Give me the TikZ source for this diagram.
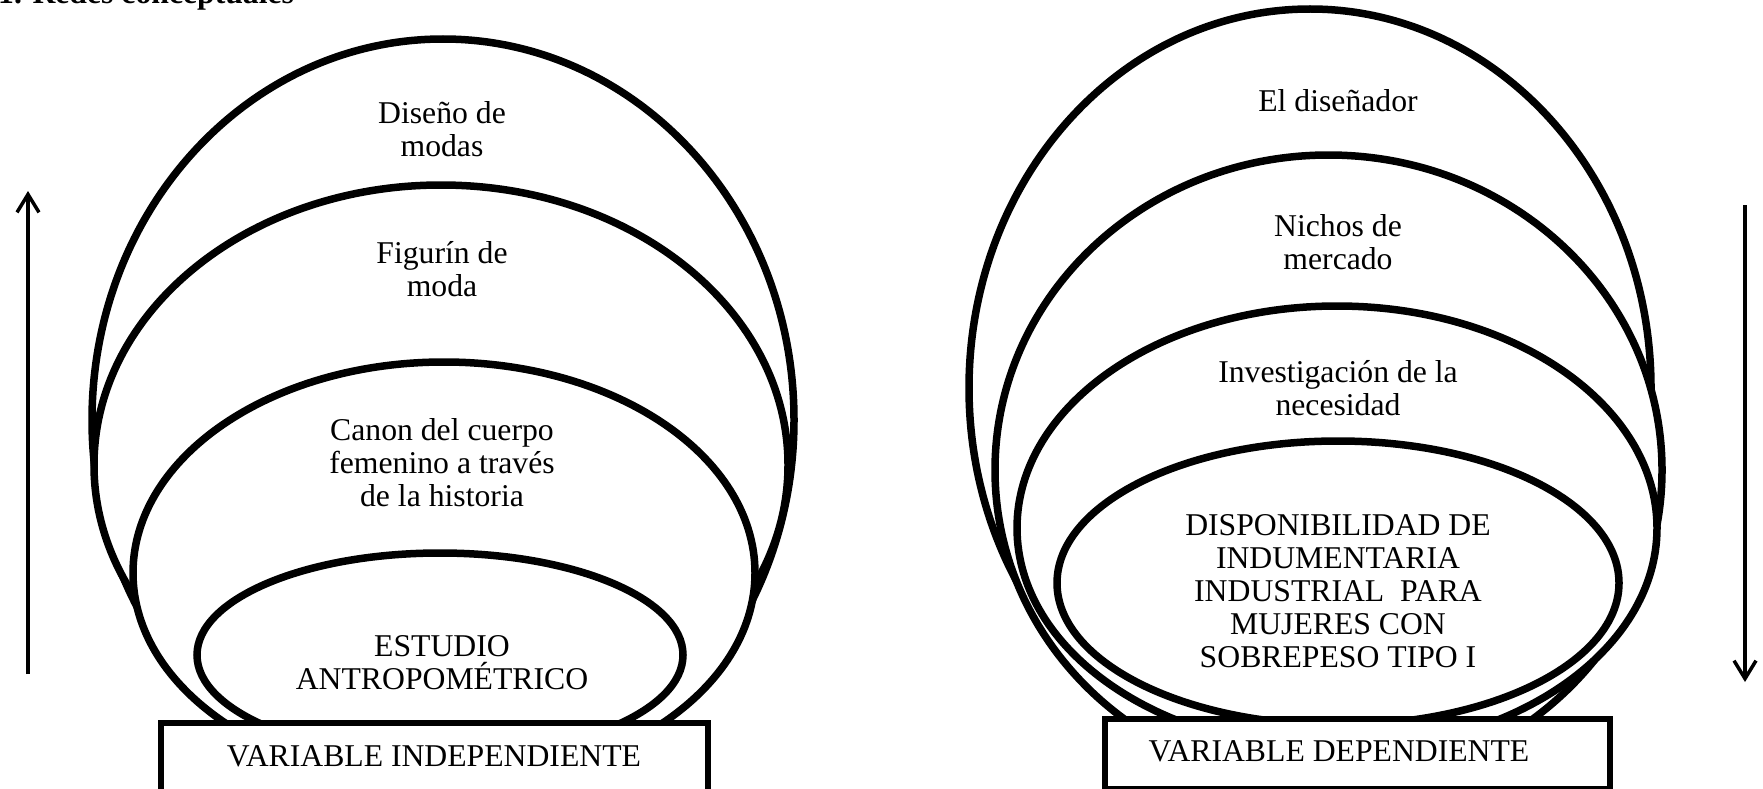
\documentclass[tikz,border=0pt]{standalone}
\usepackage{fontspec}
\setmainfont{Liberation Serif}
\usetikzlibrary{arrows.meta,shapes.geometric}
\begin{document}
\begin{tikzpicture}[x=1pt,y=-1pt,
  ring/.style={draw, fill=white, line width=7.5pt, ellipse, inner sep=0pt},
  lbl/.style={align=center, font=\fontsize{31.7}{33}\selectfont, inner sep=0pt},
  varbox/.style={draw, fill=white, line width=6pt, rectangle, inner sep=0pt},
  flow/.style={line width=3.5pt, -{Straight Barb[length=18pt,width=22pt]}}]
\useasboundingbox (0,0) rectangle (1763,789);
\clip (0,0) rectangle (1763,789);
\fill[white] (0,0) rectangle (1763,789);
% title
\node[anchor=base west, inner sep=0pt, font=\fontsize{31.7}{33}\selectfont\bfseries] (title) at (-2,4) {1. Redes conceptuales};
% left group
\node[ring, minimum width=702pt, minimum height=762pt] (e1) at (443,420) {};
\node[ring, minimum width=694pt, minimum height=560pt] (e2) at (441,465) {};
\node[ring, minimum width=622pt, minimum height=422pt] (e3) at (444,573) {};
\node[ring, minimum width=486pt, minimum height=204pt] (e4) at (440,655) {};
\node[lbl] (t1) at (442,129) {Diseño de\\modas};
\node[lbl] (t2) at (442,269) {Figurín de\\moda};
\node[lbl] (t3) at (442,463) {Canon del cuerpo\\femenino a través\\de la historia};
\node[lbl] (t4) at (442,663) {ESTUDIO\\ANTROPOMÉTRICO};
\node[varbox, minimum width=547pt, minimum height=70pt] (vi) at (434.5,758) {};
\node[lbl] (vit) at (434,756) {VARIABLE INDEPENDIENTE};
% right group
\node[ring, minimum width=682pt, minimum height=758pt] (r1) at (1310,388) {};
\node[ring, minimum width=667pt, minimum height=630pt] (r2) at (1328.5,470) {};
\node[ring, minimum width=640pt, minimum height=444pt] (r3) at (1337,528) {};
\node[ring, minimum width=562pt, minimum height=284pt] (r4) at (1338,583) {};
\node[lbl] (s1) at (1338,101) {El diseñador};
\node[lbl] (s2) at (1338,242) {Nichos de\\mercado};
\node[lbl] (s3) at (1338,388) {Investigación de la\\necesidad};
\node[lbl] (s4) at (1338,591) {DISPONIBILIDAD DE\\INDUMENTARIA\\INDUSTRIAL\ \ PARA\\MUJERES CON\\SOBREPESO TIPO I};
\node[varbox, minimum width=505pt, minimum height=70pt] (vd) at (1357.5,754) {};
\node[lbl] (vdt) at (1339,751) {VARIABLE DEPENDIENTE};
% arrows
\coordinate (a1s) at (28,674);
\coordinate (a1e) at (28,191);
\coordinate (a2s) at (1745,205);
\coordinate (a2e) at (1745,682);
\draw[flow] (a1s) -- (a1e);
\draw[flow] (a2s) -- (a2e);
\end{tikzpicture}
\end{document}
